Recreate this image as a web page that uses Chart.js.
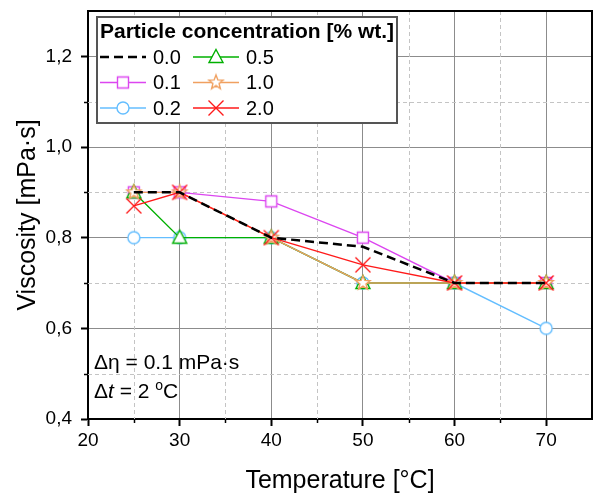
<!DOCTYPE html>
<html>
<head>
<meta charset="utf-8">
<script src="https://cdn.jsdelivr.net/npm/chart.js@4.4.0/dist/chart.umd.min.js"></script>
<style>
  html, body { margin: 0; padding: 0; background: #fff; }
  #wrap { width: 593px; height: 496px; }
</style>
</head>
<body>
<div id="wrap"><canvas id="viscChart" width="593" height="496"></canvas></div>
<script>
const temps = [25, 30, 40, 50, 60, 70];
const conc00 = [0.90, 0.90, 0.80, 0.78, 0.70, 0.70];
const conc01 = [0.90, 0.90, 0.88, 0.80, 0.70, 0.70];
const conc02 = [0.80, 0.80, 0.80, 0.70, 0.70, 0.60];
const conc05 = [0.90, 0.80, 0.80, 0.70, 0.70, 0.70];
const conc10 = [0.90, 0.90, 0.80, 0.70, 0.70, 0.70];
const conc20 = [0.87, 0.90, 0.80, 0.74, 0.70, 0.70];

const xTicks = [20, 30, 40, 50, 60, 70];
const xTickLabels = ['20', '30', '40', '50', '60', '70'];
const xMinor = [25, 35, 45, 55, 65];
const yTicks = [0.4, 0.6, 0.8, 1.0, 1.2];
const yTickLabels = ['0,4', '0,6', '0,8', '1,0', '1,2'];
const yMinor = [0.5, 0.7, 0.9, 1.1];

const FONT = '"Liberation Sans", Arial, sans-serif';

// open markers drawn onto small canvases, used as pointStyle and in the legend
function makeMarker(kind, color) {
  const c = document.createElement('canvas');
  c.width = 22; c.height = 22;
  const g = c.getContext('2d');
  g.translate(11, 11);
  g.strokeStyle = color;
  g.fillStyle = '#fff';
  g.lineWidth = 1.4;
  g.beginPath();
  if (kind === 'square') {
    g.rect(-5.5, -5.5, 11, 11);
  } else if (kind === 'circle') {
    g.arc(0, 0, 6, 0, Math.PI * 2);
  } else if (kind === 'triangle') {
    g.moveTo(0, -7.5); g.lineTo(7, 5.5); g.lineTo(-7, 5.5); g.closePath();
  } else if (kind === 'star') {
    for (let i = 0; i < 10; i++) {
      const r = i % 2 === 0 ? 7.5 : 3.2;
      const a = -Math.PI / 2 + i * Math.PI / 5;
      if (i === 0) g.moveTo(r * Math.cos(a), r * Math.sin(a));
      else g.lineTo(r * Math.cos(a), r * Math.sin(a));
    }
    g.closePath();
  } else if (kind === 'x') {
    g.moveTo(-7.5, -7.5); g.lineTo(7.5, 7.5);
    g.moveTo(7.5, -7.5); g.lineTo(-7.5, 7.5);
    g.stroke();
    return c;
  }
  g.fill();
  g.stroke();
  return c;
}

const series = [
  { label: '0.0', data: conc00, color: '#000000', marker: null, dash: [9, 5], width: 2.5, order: 0 },
  { label: '0.1', data: conc01, color: '#dc46f0', marker: 'square', dash: [], width: 1.4, order: 5 },
  { label: '0.2', data: conc02, color: '#64beff', marker: 'circle', dash: [], width: 1.4, order: 4 },
  { label: '0.5', data: conc05, color: '#00b000', marker: 'triangle', dash: [], width: 1.4, order: 3 },
  { label: '1.0', data: conc10, color: '#f0a060', marker: 'star', dash: [], width: 1.4, order: 2 },
  { label: '2.0', data: conc20, color: '#ff1a1a', marker: 'x', dash: [], width: 1.4, order: 1 }
];
series.forEach(s => { s.img = s.marker ? makeMarker(s.marker, s.color) : null; });

const datasets = series.map(s => ({
  label: s.label,
  data: temps.map((t, i) => ({ x: t, y: s.data[i] })),
  borderColor: s.color,
  borderWidth: s.width,
  borderDash: s.dash,
  pointStyle: s.img || 'circle',
  pointRadius: s.img ? 6 : 0,
  pointHoverRadius: s.img ? 6 : 0,
  order: s.order,
  tension: 0
}));

const extras = {
  id: 'extras',
  beforeDatasetsDraw(chart) {
    const { ctx, chartArea: a, scales: { x, y } } = chart;
    ctx.save();
    // minor dashed grid
    ctx.strokeStyle = '#c4c4c4';
    ctx.lineWidth = 1;
    ctx.setLineDash([4, 3]);
    xMinor.forEach(v => {
      const px = Math.round(x.getPixelForValue(v)) + 0.5;
      ctx.beginPath(); ctx.moveTo(px, a.top); ctx.lineTo(px, a.bottom); ctx.stroke();
    });
    yMinor.forEach(v => {
      const py = Math.round(y.getPixelForValue(v)) + 0.5;
      ctx.beginPath(); ctx.moveTo(a.left, py); ctx.lineTo(a.right, py); ctx.stroke();
    });
    // minor ticks, outward
    ctx.setLineDash([]);
    ctx.strokeStyle = '#000';
    ctx.lineWidth = 1.5;
    xMinor.forEach(v => {
      const px = Math.round(x.getPixelForValue(v)) + 0.5;
      ctx.beginPath(); ctx.moveTo(px, a.bottom); ctx.lineTo(px, a.bottom + 4); ctx.stroke();
    });
    yMinor.forEach(v => {
      const py = Math.round(y.getPixelForValue(v)) + 0.5;
      ctx.beginPath(); ctx.moveTo(a.left, py); ctx.lineTo(a.left - 4, py); ctx.stroke();
    });
    ctx.restore();
  },
  afterDatasetsDraw(chart) {
    const { ctx, chartArea: a } = chart;
    ctx.save();
    // frame on top and right
    ctx.strokeStyle = '#000';
    ctx.lineWidth = 2;
    ctx.beginPath();
    ctx.moveTo(a.left, a.top); ctx.lineTo(a.right, a.top); ctx.lineTo(a.right, a.bottom);
    ctx.stroke();

    // legend box
    const lx = a.left + 9, ly = a.top + 6, lw = 300, lh = 106;
    ctx.fillStyle = '#fff';
    ctx.fillRect(lx, ly, lw, lh);
    ctx.strokeStyle = '#555';
    ctx.lineWidth = 2;
    ctx.strokeRect(lx, ly, lw, lh);
    ctx.fillStyle = '#000';
    ctx.textBaseline = 'middle';
    ctx.textAlign = 'left';
    ctx.font = 'bold 21px ' + FONT;
    ctx.fillText('Particle concentration [% wt.]', lx + 3, ly + 15);
    ctx.font = '20px ' + FONT;
    const legendOrder = ['0.0', '0.1', '0.2', '0.5', '1.0', '2.0'];
    legendOrder.forEach((lab, i) => {
      const s = series.find(d => d.label === lab);
      const col = Math.floor(i / 3), row = i % 3;
      const x0 = lx + 3 + col * 93;
      const yy = ly + 40 + row * 25.5;
      ctx.strokeStyle = s.color;
      ctx.lineWidth = s.width;
      ctx.setLineDash(s.dash);
      ctx.beginPath(); ctx.moveTo(x0, yy); ctx.lineTo(x0 + 46, yy); ctx.stroke();
      ctx.setLineDash([]);
      if (s.img) ctx.drawImage(s.img, x0 + 23 - 11, yy - 11);
      ctx.fillStyle = '#000';
      ctx.fillText(s.label, x0 + 53, yy + 1);
    });

    // measurement uncertainty note
    const tx = a.left + 6;
    const y1 = a.bottom - 56, y2 = a.bottom - 27;
    const fs = 21;
    ctx.font = fs + 'px ' + FONT;
    ctx.fillText('\u0394\u03b7 = 0.1 mPa\u00b7s', tx, y1);
    let cx = tx;
    ctx.fillText('\u0394', cx, y2); cx += ctx.measureText('\u0394').width;
    ctx.font = 'italic ' + fs + 'px ' + FONT;
    ctx.fillText('t', cx, y2); cx += ctx.measureText('t').width;
    ctx.font = fs + 'px ' + FONT;
    ctx.fillText(' = 2 ', cx, y2); cx += ctx.measureText(' = 2 ').width;
    ctx.font = '14px ' + FONT;
    ctx.fillText('o', cx, y2 - 6); cx += ctx.measureText('o').width;
    ctx.font = fs + 'px ' + FONT;
    ctx.fillText('C', cx, y2);
    ctx.restore();
  }
};

new Chart(document.getElementById('viscChart'), {
  type: 'line',
  data: { datasets: datasets },
  options: {
    responsive: false,
    animation: false,
    layout: { autoPadding: false, padding: { top: 11, right: 1, left: 0, bottom: 0 } },
    plugins: {
      legend: { display: false },
      tooltip: { enabled: false }
    },
    scales: {
      x: {
        type: 'linear',
        min: 20,
        max: 75,
        afterBuildTicks: s => { s.ticks = xTicks.map(v => ({ value: v })); },
        afterFit: s => { s.height = 77; s.paddingLeft = 0; s.paddingRight = 0; },
        grid: { color: '#8c8c8c', lineWidth: 1, tickLength: 7, tickColor: '#000', tickWidth: 2 },
        border: { color: '#000', width: 2 },
        ticks: {
          color: '#000',
          font: { family: FONT, size: 19 },
          padding: 3,
          maxRotation: 0,
          callback: (v, i) => xTickLabels[i]
        },
        title: {
          display: true,
          text: 'Temperature [\u00b0C]',
          color: '#000',
          font: { family: FONT, size: 25 },
          padding: { top: 0, bottom: 0 }
        }
      },
      y: {
        type: 'linear',
        min: 0.4,
        max: 1.3,
        afterBuildTicks: s => { s.ticks = yTicks.map(v => ({ value: v })); },
        afterFit: s => { s.width = 88; s.paddingTop = 0; s.paddingBottom = 0; },
        grid: { color: '#8c8c8c', lineWidth: 1, tickLength: 7, tickColor: '#000', tickWidth: 2 },
        border: { color: '#000', width: 2 },
        ticks: {
          color: '#000',
          font: { family: FONT, size: 19 },
          padding: 9,
          callback: (v, i) => yTickLabels[i]
        },
        title: {
          display: true,
          text: 'Viscosity [mPa\u00b7s]',
          color: '#000',
          font: { family: FONT, size: 25 },
          padding: { top: 13, bottom: 0 }
        }
      }
    }
  },
  plugins: [extras]
});
</script>
</body>
</html>
